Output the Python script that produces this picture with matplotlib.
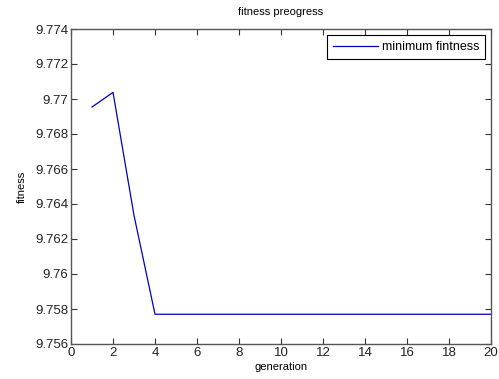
import matplotlib
matplotlib.use("Agg")
import matplotlib.pyplot as plt

generation = list(range(1, 21))
min_fitness = [9.76954, 9.77038, 9.76335] + [9.75770] * 17
x_ticks = [0, 2, 4, 6, 8, 10, 12, 14, 16, 18, 20]
y_ticks = [9.756, 9.758, 9.76, 9.762, 9.764, 9.766, 9.768, 9.77, 9.772, 9.774]
y_labels = ["9.756", "9.758", "9.76", "9.762", "9.764", "9.766", "9.768", "9.77", "9.772", "9.774"]

plt.rcParams['font.family'] = ['Liberation Sans', 'DejaVu Sans']
fig = plt.figure(figsize=(4.99, 3.79), dpi=100)
ax = fig.add_axes([71/499, 1 - 344/379, 420/499, 315/379])
ax.plot(generation, min_fitness, color='#0000c0', lw=0.9, label='minimum fintness')
ax.set_xlim(0, 20)
ax.set_ylim(9.756, 9.774)
ax.set_xticks(x_ticks)
ax.set_xticklabels([str(t) for t in x_ticks])
ax.set_yticks(y_ticks)
ax.set_yticklabels(y_labels)
ax.tick_params(direction='in', top=True, right=True, labelsize=9.5, length=4,
               color='#333333', labelcolor='#222222', width=0.8, pad=2)
for s in ax.spines.values():
    s.set_color('#555555')
    s.set_linewidth(1.0)
ax.set_title('fitness preogress', fontsize=8, pad=10)
ax.set_xlabel('generation', fontsize=8, labelpad=2)
ax.set_ylabel('fitness', fontsize=8, labelpad=6)
leg = ax.legend(loc='upper right', fontsize=9, fancybox=False, framealpha=1,
                edgecolor='black', handlelength=3.6, borderaxespad=0.5,
                borderpad=0.45, handletextpad=0.3)
leg.get_frame().set_linewidth(0.8)
fig.savefig('out.png', dpi=100)
